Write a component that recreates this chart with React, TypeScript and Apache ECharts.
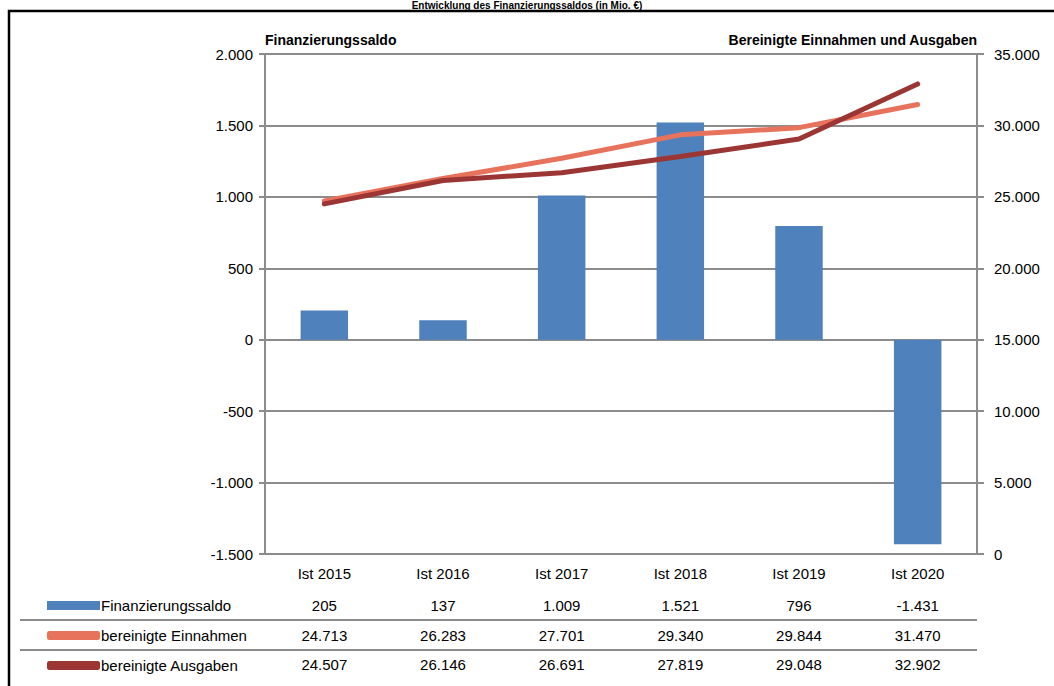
import React, { useEffect, useRef } from "react";
import * as echarts from "echarts";

const categories = ["Ist 2015", "Ist 2016", "Ist 2017", "Ist 2018", "Ist 2019", "Ist 2020"];
const saldo = [205, 137, 1009, 1521, 796, -1431];
const einnahmen = [24713, 26283, 27701, 29340, 29844, 31470];
const ausgaben = [24507, 26146, 26691, 27819, 29048, 32902];
const seriesNames = ["Finanzierungssaldo", "bereinigte Einnahmen", "bereinigte Ausgaben"];

const FONT = "'Liberation Sans Narrow', 'Arial Narrow', 'Liberation Sans', Arial, sans-serif";

function fmt(n: number): string {
  const s = Math.abs(n).toString().replace(/\B(?=(\d{3})+(?!\d))/g, ".");
  return (n < 0 ? "-" : "") + s;
}

const tableAxis = (values: number[], offset: number) => ({
  type: "category",
  data: values.map(fmt),
  position: "bottom",
  gridIndex: 0,
  offset,
  axisLine: { show: false },
  axisTick: { show: false },
  splitLine: { show: false },
  axisLabel: { margin: 11, color: "#000", fontFamily: FONT, fontSize: 15, interval: 0 },
});

export default function App() {
  const ref = useRef<HTMLDivElement>(null);
  useEffect(() => {
    if (!ref.current) return;
    const chart = echarts.init(ref.current, null, { renderer: "svg" });
    const gray = "#8c8c8c";
    chart.setOption({
      animation: false,
      backgroundColor: "#fff",
      textStyle: { fontFamily: FONT },
      grid: { left: 265, right: 77, top: 54, bottom: 132, containLabel: false },
      legend: {
        orient: "vertical",
        left: 47,
        top: 598,
        padding: 0,
        itemWidth: 53,
        itemHeight: 9,
        itemGap: 15,
        selectedMode: false,
        textStyle: { fontFamily: FONT, fontSize: 15, color: "#000", padding: [0, 0, 0, -4] },
        data: [
          { name: seriesNames[0], icon: "rect" },
          { name: seriesNames[1], icon: "roundRect" },
          { name: seriesNames[2], icon: "roundRect" },
        ],
      },
      xAxis: [
        {
          type: "category",
          data: categories,
          position: "bottom",
          axisLine: { onZero: false, lineStyle: { color: gray, width: 2 } },
          axisTick: { show: false },
          axisLabel: { margin: 12, color: "#000", fontFamily: FONT, fontSize: 15, interval: 0 },
        },
        tableAxis(saldo, 33),
        tableAxis(einnahmen, 63),
        tableAxis(ausgaben, 92),
      ],
      yAxis: [
        {
          type: "value",
          min: -1500,
          max: 2000,
          interval: 500,
          position: "left",
          name: "Finanzierungssaldo",
          nameLocation: "end",
          nameGap: 7,
          nameTextStyle: { align: "left", fontWeight: "bold", fontSize: 14, color: "#000", fontFamily: FONT },
          axisLine: { show: true, lineStyle: { color: gray, width: 2 } },
          axisTick: { show: true, length: 6, lineStyle: { color: gray, width: 2 } },
          splitLine: { show: true, lineStyle: { color: gray, width: 2 } },
          axisLabel: { formatter: (v: number) => fmt(v), margin: 12, color: "#000", fontFamily: FONT, fontSize: 15 },
        },
        {
          type: "value",
          min: 0,
          max: 35000,
          interval: 5000,
          position: "right",
          name: "Bereinigte Einnahmen und Ausgaben",
          nameLocation: "end",
          nameGap: 7,
          nameTextStyle: { align: "right", fontWeight: "bold", fontSize: 14, color: "#000", fontFamily: FONT },
          axisLine: { show: true, lineStyle: { color: gray, width: 2 } },
          axisTick: { show: true, length: 7, lineStyle: { color: gray, width: 2 } },
          splitLine: { show: false },
          axisLabel: { formatter: (v: number) => fmt(v), margin: 17, color: "#000", fontFamily: FONT, fontSize: 15 },
        },
      ],
      series: [
        {
          name: seriesNames[0],
          type: "bar",
          data: saldo,
          yAxisIndex: 0,
          barWidth: "40%",
          itemStyle: { color: "#4f81bd" },
        },
        {
          name: seriesNames[1],
          type: "line",
          data: einnahmen,
          yAxisIndex: 1,
          symbol: "none",
          lineStyle: { color: "#e8735c", width: 5, cap: "round" },
          itemStyle: { color: "#e8735c" },
          z: 3,
        },
        {
          name: seriesNames[2],
          type: "line",
          data: ausgaben,
          yAxisIndex: 1,
          symbol: "none",
          lineStyle: { color: "#9b3634", width: 5, cap: "round" },
          itemStyle: { color: "#9b3634" },
          z: 4,
        },
      ],
      graphic: [
        {
          type: "rect",
          shape: { x: 9, y: 11, width: 1200, height: 800 },
          style: { fill: "none", stroke: "#000", lineWidth: 2.5 },
          silent: true,
        },
        {
          type: "text",
          x: 527,
          y: 0,
          style: {
            text: "Entwicklung des Finanzierungssaldos (in Mio. €)",
            fontFamily: FONT,
            fontWeight: "bold",
            fontSize: 10,
            fill: "#000",
            align: "center",
            verticalAlign: "top",
          },
        },
        {
          type: "line",
          shape: { x1: 20, y1: 620, x2: 977, y2: 620 },
          style: { stroke: gray, lineWidth: 2 },
        },
        {
          type: "line",
          shape: { x1: 20, y1: 650, x2: 977, y2: 650 },
          style: { stroke: gray, lineWidth: 2 },
        },
      ],
    });
    return () => chart.dispose();
  }, []);
  return <div ref={ref} style={{ position: "fixed", left: 0, top: 0, width: 1054, height: 686 }} />;
}
